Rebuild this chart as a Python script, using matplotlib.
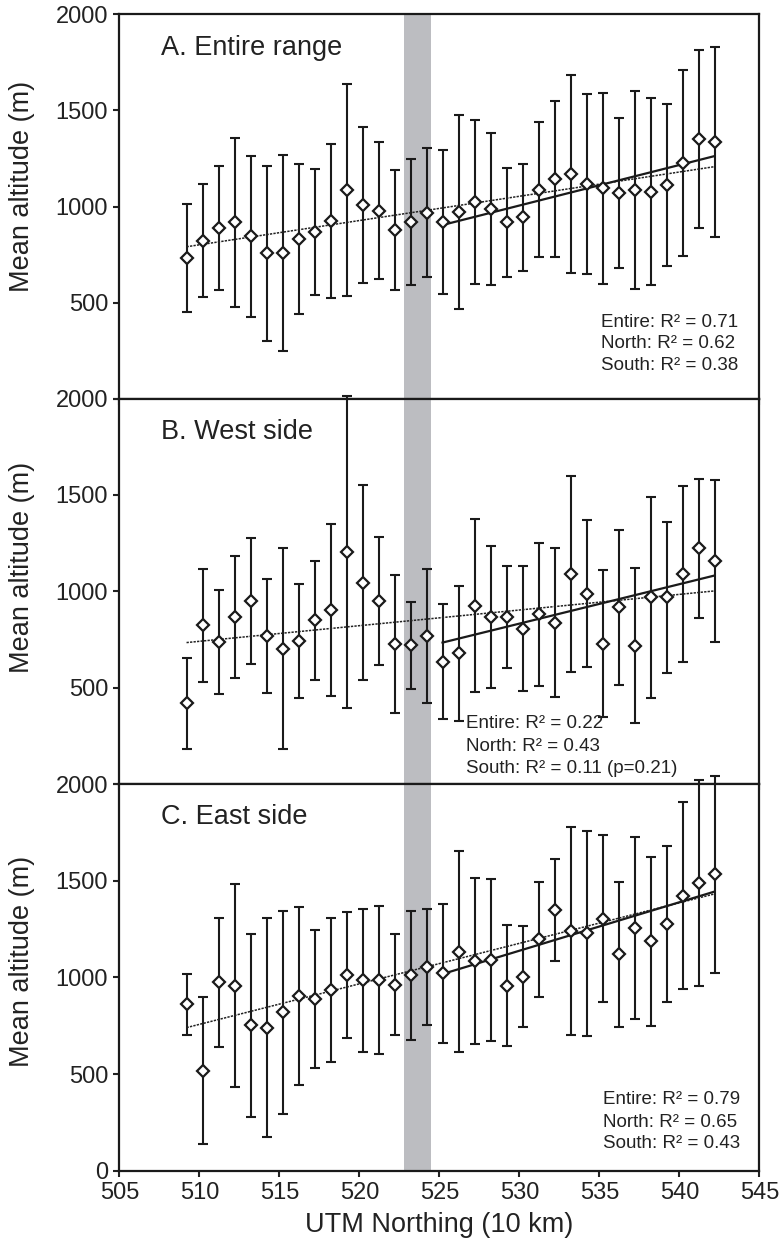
import matplotlib
matplotlib.use("Agg")
import matplotlib.pyplot as plt
import numpy as np

plt.rcParams['font.family'] = ['Liberation Sans', 'DejaVu Sans']

# ---- data ----
northing = [509.2, 510.2, 511.2, 512.2, 513.2, 514.2, 515.2, 516.2, 517.2, 518.2,
            519.2, 520.2, 521.2, 522.2, 523.2, 524.2, 525.2, 526.2, 527.2, 528.2,
            529.2, 530.2, 531.2, 532.2, 533.2, 534.2, 535.2, 536.2, 537.2, 538.2,
            539.2, 540.2, 541.2, 542.2]

entire_mean = [734, 822, 888, 918, 845, 757, 760, 831, 869, 925, 1087, 1008, 978, 878, 919, 968,
               919, 971, 1025, 987, 919, 944, 1087, 1143, 1169, 1119, 1094, 1072, 1086, 1077,
               1112, 1226, 1351, 1335]
entire_sd = [280, 294, 323, 438, 418, 455, 510, 390, 327, 402, 550, 405, 357, 314, 327, 335,
             375, 504, 426, 397, 283, 279, 350, 405, 513, 467, 495, 390, 515, 487, 419, 484,
             461, 492]

west_mean = [418, 823, 738, 867, 950, 769, 703, 741, 850, 902, 1204, 1045, 950, 727, 721, 769,
             634, 679, 926, 867, 867, 805, 881, 838, 1090, 988, 729, 918, 717, 969, 969, 1090,
             1223, 1158]
west_sd = [237, 294, 269, 318, 325, 297, 520, 297, 309, 447, 809, 505, 330, 356, 226, 348,
           299, 351, 448, 368, 267, 324, 372, 385, 510, 381, 382, 402, 402, 521, 393, 456,
           362, 420]

east_mean = [861, 519, 975, 958, 753, 741, 820, 904, 889, 934, 1013, 985, 989, 963, 1011, 1054,
             1022, 1134, 1085, 1090, 958, 1004, 1197, 1349, 1240, 1228, 1304, 1121, 1254, 1187,
             1278, 1423, 1488, 1533]
east_sd = [157, 382, 332, 525, 472, 567, 524, 459, 358, 372, 325, 368, 382, 261, 335, 301,
           360, 521, 429, 420, 314, 260, 298, 264, 539, 528, 431, 375, 471, 438, 403, 483,
           533, 508]

# regression lines (values at start / end of each fit)
fit_entire_x = [509.2, 542.2]
fit_north_x = [525.2, 542.2]
entire_fit_all = [791, 1207]
entire_fit_north = [904, 1262]
west_fit_all = [734, 1002]
west_fit_north = [734, 1082]
east_fit_all = [741, 1432]
east_fit_north = [1018, 1444]

band = [522.8, 524.5]

titles = ["A. Entire range", "B. West side", "C. East side"]
r2_texts = [
    ["Entire: R\u00b2 = 0.71", "North: R\u00b2 = 0.62", "South: R\u00b2 = 0.38"],
    ["Entire: R\u00b2 = 0.22", "North: R\u00b2 = 0.43", "South: R\u00b2 = 0.11 (p=0.21)"],
    ["Entire: R\u00b2 = 0.79", "North: R\u00b2 = 0.65", "South: R\u00b2 = 0.43"],
]
xticks = [505, 510, 515, 520, 525, 530, 535, 540, 545]

panels = [
    (entire_mean, entire_sd, entire_fit_all, entire_fit_north),
    (west_mean, west_sd, west_fit_all, west_fit_north),
    (east_mean, east_sd, east_fit_all, east_fit_north),
]

# ---- layout ----
fig = plt.figure(figsize=(7.8, 12.52), dpi=100)
L, W = 0.153, 0.8205
rects = [[L, 0.6813, W, 0.3075], [L, 0.3738, W, 0.3078], [L, 0.0647, W, 0.3091]]
text_x = [0.7527, 0.5417, 0.7558]
text_y = [[0.200, 0.143, 0.086], [0.158, 0.0985, 0.0415], [0.1835, 0.1266, 0.0698]]
title_y = [0.912, 0.913, 0.9155]
label_y = [0.551, 0.563, 0.541]

for i, (mean, sd, fall, fnorth) in enumerate(panels):
    ax = fig.add_axes(rects[i])
    ax.axvspan(band[0], band[1], color='#bcbdc1', zorder=0, lw=0)
    ax.errorbar(northing, mean, yerr=sd, fmt='none', ecolor='#1a1a1a', elinewidth=1.5,
                capsize=3.5, capthick=1.5, zorder=3, clip_on=False)
    ax.plot(fit_entire_x, fall, color='#222222', lw=1.1, ls=(0, (1.5, 0.8)), zorder=4)
    ax.plot(fit_north_x, fnorth, color='#1a1a1a', lw=1.6, zorder=4)
    ax.plot(northing, mean, ls='none', marker='D', ms=6.3, mfc='white', mec='#1a1a1a',
            mew=1.6, zorder=5, clip_on=False)
    ax.set_xlim(505, 545)
    ax.set_ylim(0, 2000)
    ax.set_xticks(xticks)
    if i < 2:
        ax.set_yticks([0, 500, 1000, 1500, 2000])
        ax.set_yticklabels(['', '500', '1000', '1500', '2000'])
        ax.set_xticklabels([])
    else:
        ax.set_yticks([0, 500, 1000, 1500, 2000])
        ax.set_xticklabels([str(t) for t in xticks])
        ax.set_xlabel("UTM Northing (10 km)", fontsize=19.5, color='#222222', labelpad=6)
    ax.tick_params(direction='out', length=4, width=1.5, labelsize=17, colors='#222222',
                   pad=4)
    for s in ax.spines.values():
        s.set_linewidth(1.6)
        s.set_color('#1a1a1a')
        s.set_zorder(6)
    ax.set_ylabel("Mean altitude (m)", fontsize=19.5, color='#222222')
    ax.yaxis.set_label_coords(-0.132, label_y[i])
    ax.text(0.0656, title_y[i], titles[i], transform=ax.transAxes, fontsize=19.5,
            color='#222222', ha='left', va='center')
    for j, t in enumerate(r2_texts[i]):
        ax.text(text_x[i], text_y[i][j], t, transform=ax.transAxes, fontsize=13.5,
                color='#222222', ha='left', va='center', zorder=7)

fig.savefig("out.png", dpi=100)
